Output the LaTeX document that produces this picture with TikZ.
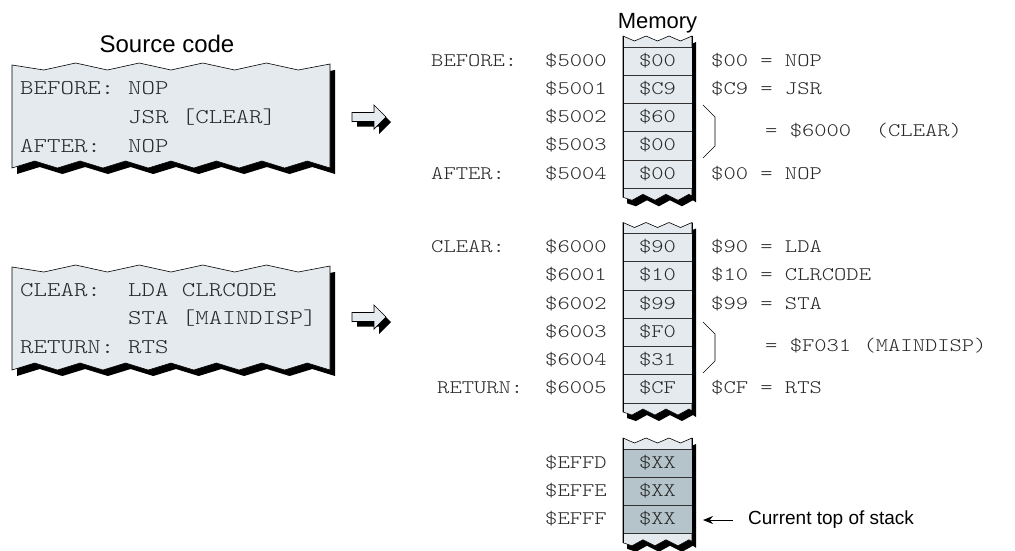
\documentclass[tikz,border=0pt]{standalone}
\usepackage{fontspec}
\setmainfont{Liberation Sans}
\newfontfamily\codefont{lmmonolt10-regular.otf}[FakeStretch=1.22]
\usetikzlibrary{arrows.meta}
\definecolor{memlight}{RGB}{228,234,238}
\definecolor{memdark}{RGB}{181,196,203}
\definecolor{txt}{RGB}{40,40,40}
\newcommand\srcfont{\codefont\fontsize{21}{25}\selectfont}
\newcommand\memfont{\codefont\fontsize{19.2}{23}\selectfont}

\tikzset{
  src/.style={anchor=base west, inner sep=0pt, font=\srcfont, text=txt},
  mem/.style={anchor=base west, inner sep=0pt, font=\memfont, text=txt},
  cell/.style={anchor=base, inner sep=0pt, font=\memfont, text=txt},
  ttl/.style={anchor=base, inner sep=0pt},
  tornfill/.style={fill=memlight, draw=black, line width=0.6pt, line join=miter},
  shadowfill/.style={fill=black},
  cellline/.style={draw=black!80, line width=0.6pt},
  bracket/.style={draw=black, line width=0.6pt},
  blockarrow/.style={fill=memlight, draw=black, line width=0.7pt, line join=miter},
  ptrarrow/.style={draw=black, line width=1pt, -{Stealth[length=10pt,width=8pt]}},
}

% memory column outline (uses \mcl, \mct, \mcb)
\newcommand\mcoutline{(\mcl,\mct-11) -- (\mcl+11.5,\mct-6) -- (\mcl+23,\mct-11) -- (\mcl+34.5,\mct-6) -- (\mcl+46,\mct-11) -- (\mcl+57.5,\mct-6) -- (\mcl+69,\mct-11) -- (\mcl+69,\mcb+8) -- (\mcl+66,\mcb+6) -- (\mcl+55,\mcb+12) -- (\mcl+43,\mcb+6) -- (\mcl+32,\mcb+12) -- (\mcl+20,\mcb+6) -- (\mcl+9,\mcb+12) -- (\mcl,\mcb+9) -- cycle}
% #1 left x, #2 top line y, #3 number of cells, #4 cell colour
\newcommand\memcol[4]{%
  \pgfmathsetmacro\mcl{#1}\pgfmathsetmacro\mct{#2}\pgfmathsetmacro\mcb{#2+#3*28.25}%
  \path[shadowfill, shift={(4,6)}] \mcoutline;
  \path[tornfill] \mcoutline;
  \fill[#4] (\mcl,\mct) rectangle (\mcl+69,\mcb);
  \foreach \k in {0,...,#3} \draw[cellline] (\mcl,{\mct+\k*28.25}) -- (\mcl+69,{\mct+\k*28.25});
  \draw[black, line width=0.6pt] (\mcl,\mct-11) -- (\mcl,\mcb+9) (\mcl+69,\mct-11) -- (\mcl+69,\mcb+8);
}
% source box outline
\newcommand\sboutline{(12,65) -- (43.8,70) -- (75.6,63) -- (107.4,70) -- (139.2,63) -- (171,70) -- (202.8,63) -- (234.6,70) -- (266.4,63) -- (298.2,70) -- (330,64) -- (330,168) -- (307.3,161) -- (284.6,168) -- (261.9,161) -- (239.1,168) -- (216.4,161) -- (193.7,168) -- (171,161) -- (148.3,168) -- (125.6,161) -- (102.9,168) -- (80.1,161) -- (57.4,168) -- (34.7,161) -- (12,168) -- cycle}
\newcommand\baoutline[1]{(352,#1-4.5) -- (374,#1-4.5) -- (374,#1-12) -- (386,#1) -- (374,#1+12) -- (374,#1+4.5) -- (352,#1+4.5) -- cycle}

\begin{document}
\begin{tikzpicture}[x=1pt,y=-1pt]
\useasboundingbox (0,0) rectangle (1015,550);

% ---------- source boxes ----------
\node[ttl, font=\fontsize{24}{28}\selectfont] (srctitle) at (167,52) {Source code};
\path[shadowfill, shift={(5,6)}] \sboutline;
\path[tornfill] \sboutline;
\begin{scope}[shift={(0,202)}]
  \path[shadowfill, shift={(5,6)}] \sboutline;
  \path[tornfill] \sboutline;
\end{scope}

\node[src] (s1a) at (20,94) {BEFORE:};
\node[src] (s1b) at (128,94) {NOP};
\node[src] (s1c) at (128,123) {JSR [CLEAR]};
\node[src] (s1d) at (20,152) {AFTER:};
\node[src] (s1e) at (128,152) {NOP};

\node[src] (s2a) at (20,296) {CLEAR:};
\node[src] (s2b) at (128,296) {LDA CLRCODE};
\node[src] (s2c) at (128,324) {STA [MAINDISP]};
\node[src] (s2d) at (20,353) {RETURN:};
\node[src] (s2e) at (128,353) {RTS};

% ---------- block arrows ----------
\path[shadowfill, shift={(5,5)}] \baoutline{117};
\path[blockarrow] \baoutline{117};
\path[shadowfill, shift={(5,5)}] \baoutline{317};
\path[blockarrow] \baoutline{317};

% ---------- memory columns ----------
\node[ttl, font=\fontsize{22}{26}\selectfont] (memtitle) at (657.5,28) {Memory};
\memcol{623}{47}{5}{memlight}
\memcol{623}{233.5}{6}{memlight}
\memcol{623}{449}{3}{memdark}

% column 1
\foreach \v [count=\i from 0] in {\$00,\$C9,\$60,\$00,\$00}
  \node[cell] (ca\i) at (657.5,{47+(\i+0.5)*28.25+5}) {\v};
\foreach \v [count=\i from 0] in {\$5000,\$5001,\$5002,\$5003,\$5004}
  \node[mem] (aa\i) at (545,{47+(\i+0.5)*28.25+5}) {\v};
\node[mem] (lbefore) at (431,66.1) {BEFORE:};
\node[mem] (lafter) at (431,179.1) {AFTER:};
\node[mem] (ra0) at (711,66.1) {\$00 = NOP};
\node[mem] (ra1) at (711,94.4) {\$C9 = JSR};
\node[mem] (ra2) at (765,136.7) {= \$6000\ \ (CLEAR)};
\node[mem] (ra4) at (711,179.1) {\$00 = NOP};
\draw[bracket] (703,105) -- (715,117) -- (715,146) -- (703,158);

% column 2
\foreach \v [count=\i from 0] in {\$90,\$10,\$99,\$F0,\$31,\$CF}
  \node[cell] (cb\i) at (657.5,{233.5+(\i+0.5)*28.25+5}) {\v};
\foreach \v [count=\i from 0] in {\$6000,\$6001,\$6002,\$6003,\$6004,\$6005}
  \node[mem] (ab\i) at (545,{233.5+(\i+0.5)*28.25+5}) {\v};
\node[mem] (lclear) at (431,252.6) {CLEAR:};
\node[mem] (lreturn) at (437,393.9) {RETURN:};
\node[mem] (rb0) at (711,252.6) {\$90 = LDA};
\node[mem] (rb1) at (711,280.9) {\$10 = CLRCODE};
\node[mem] (rb2) at (711,309.1) {\$99 = STA};
\node[mem] (rb3) at (765,351.5) {= \$F031 (MAINDISP)};
\node[mem] (rb5) at (711,393.9) {\$CF = RTS};
\draw[bracket] (703,322) -- (715,334) -- (715,361) -- (703,373);

% column 3 (stack)
\foreach \v [count=\i from 0] in {\$XX,\$XX,\$XX}
  \node[cell] (cc\i) at (657.5,{449+(\i+0.5)*28.25+5}) {\v};
\foreach \v [count=\i from 0] in {\$EFFD,\$EFFE,\$EFFF}
  \node[mem] (ac\i) at (545,{449+(\i+0.5)*28.25+5}) {\v};

\node[anchor=west, inner sep=0pt, font=\fontsize{19}{23}\selectfont] (cst) at (748,520) {Current top of stack};
\coordinate (ptr) at (703,520);
\draw[ptrarrow] ([xshift=-15pt]cst.west) -- (ptr);
\end{tikzpicture}
\end{document}
